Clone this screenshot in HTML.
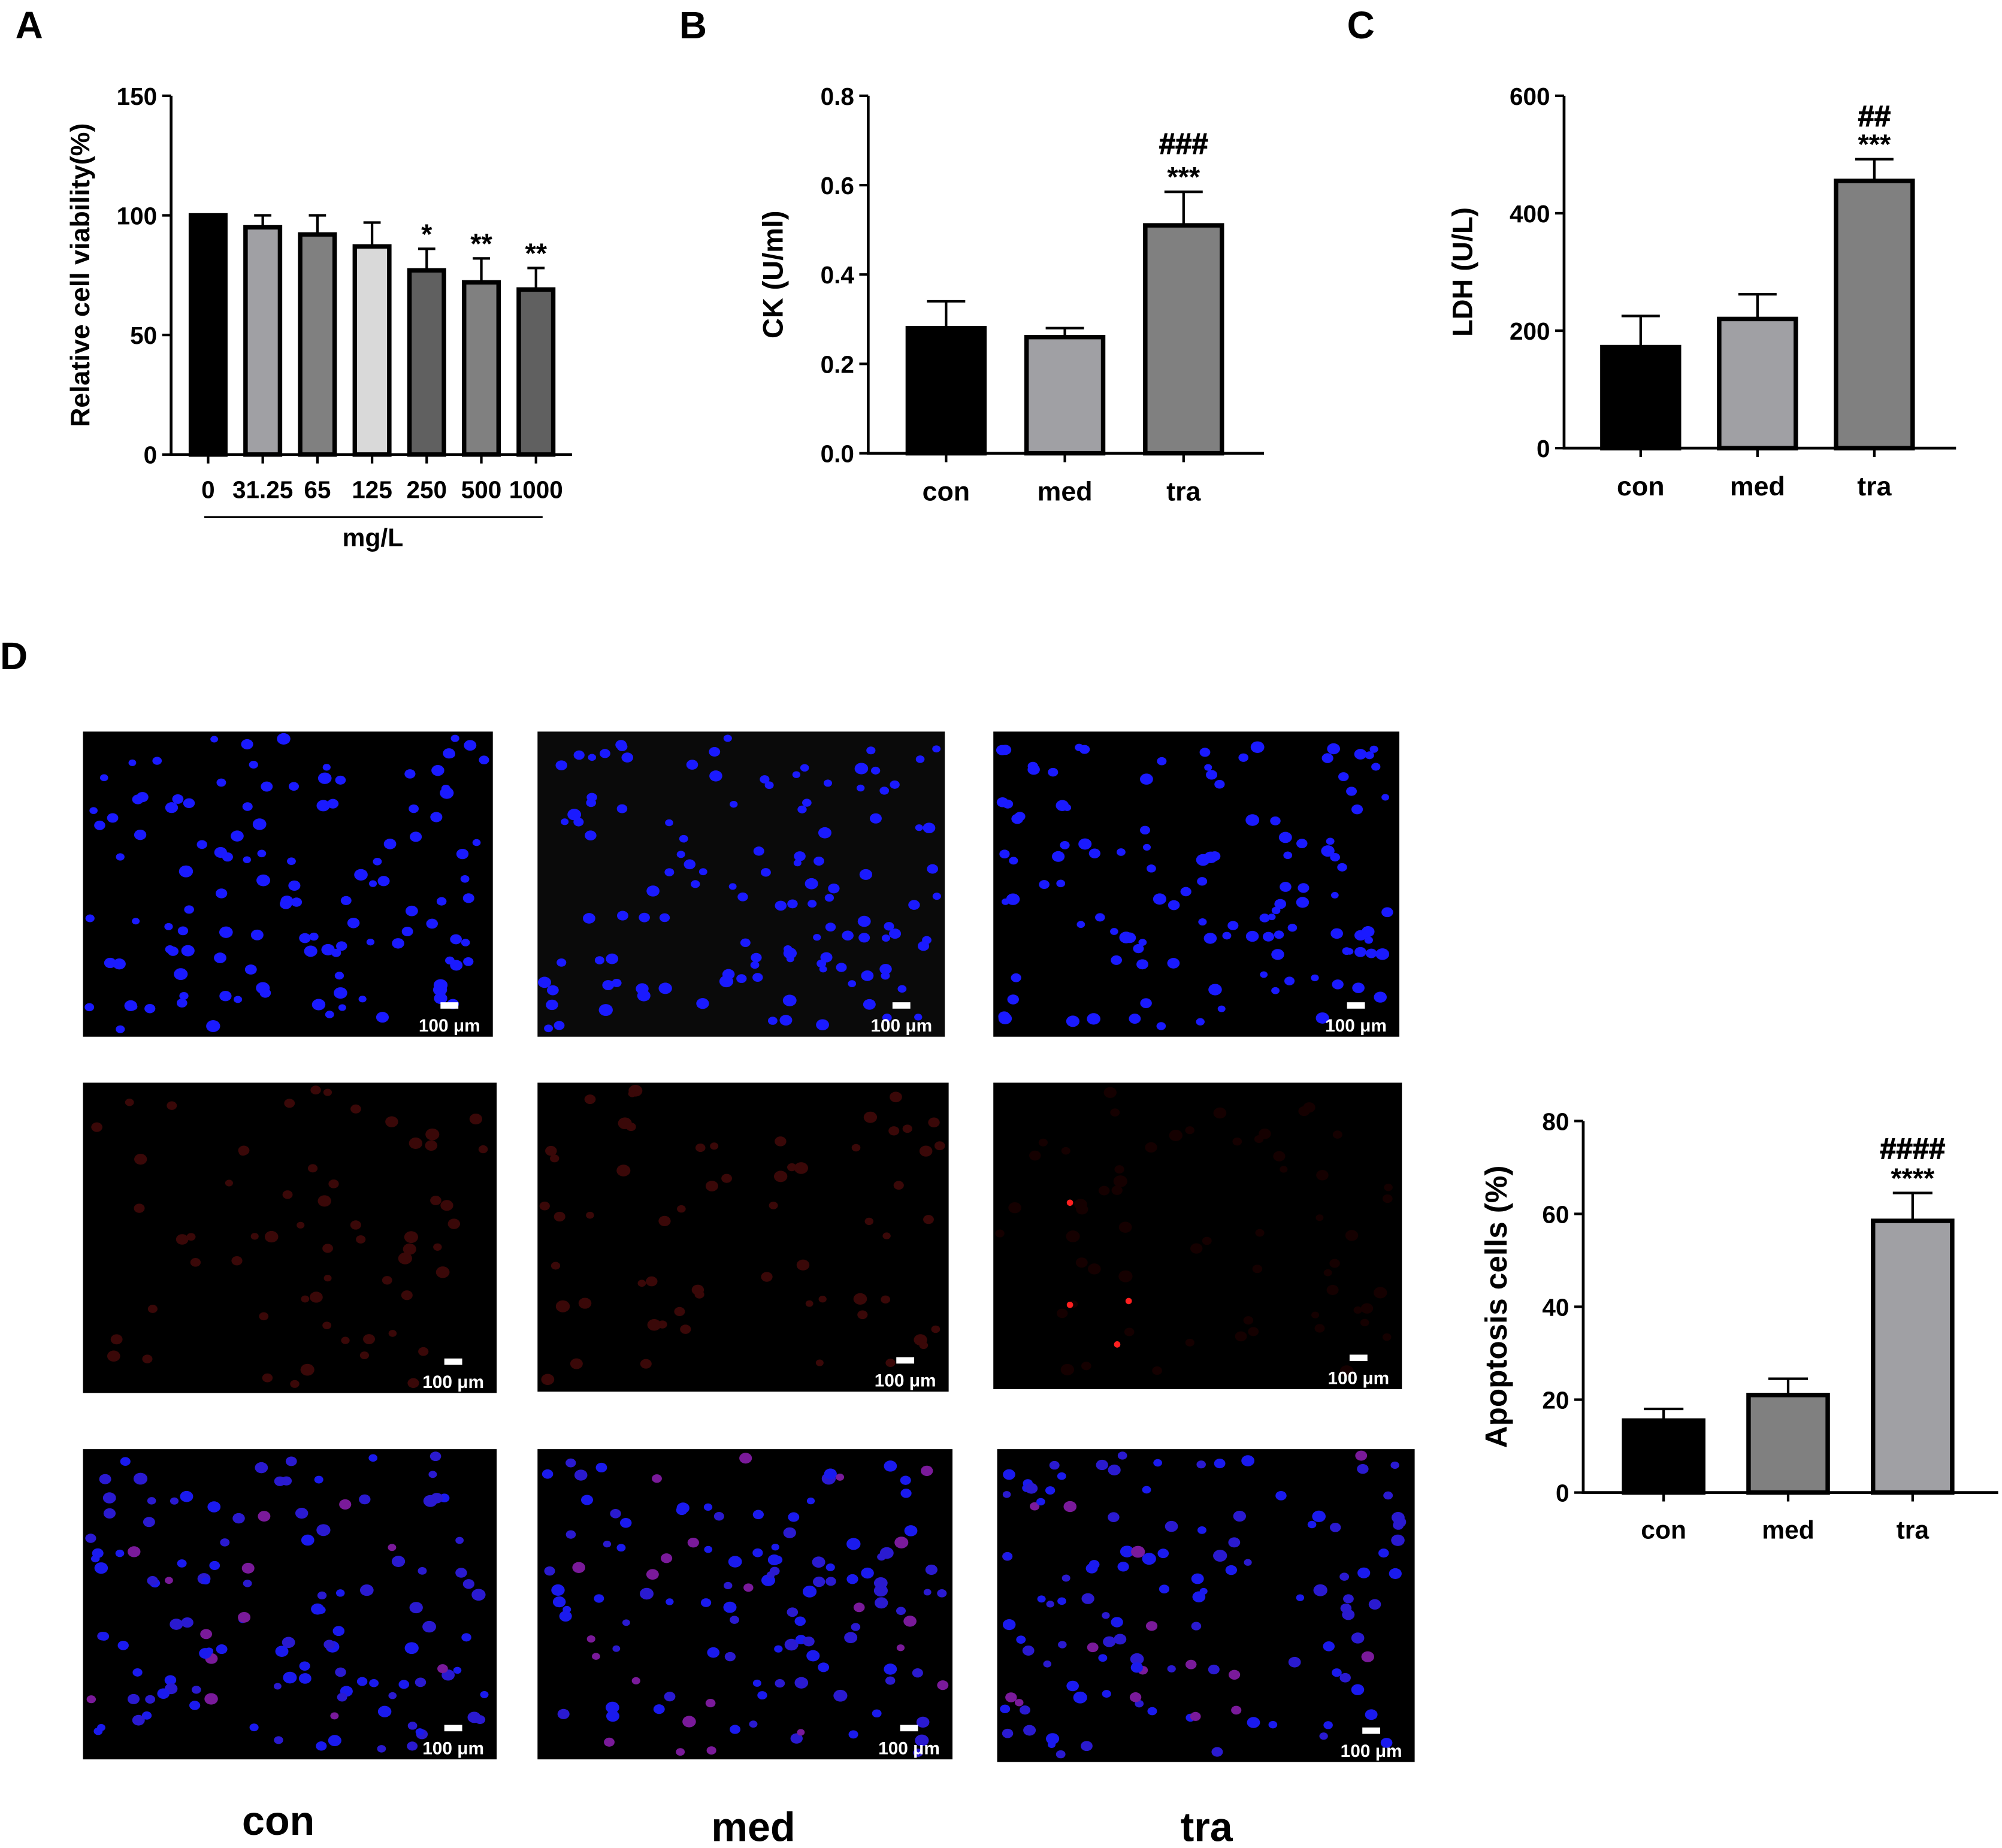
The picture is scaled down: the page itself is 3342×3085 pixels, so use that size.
<!DOCTYPE html>
<html><head><meta charset="utf-8"><style>
html,body{margin:0;padding:0;background:#fff}
svg{display:block}
text{font-family:"Liberation Sans",Arial,sans-serif;font-weight:bold;fill:#000}
</style></head><body>
<svg id="root" width="3342" height="3085" viewBox="0 0 1568 1447.4" xmlns="http://www.w3.org/2000/svg">
<g id="gA"></g>
<g id="gB"></g>
<g id="gC"></g>
<g id="gD"></g>
<g id="imgs"></g>
<text x="12" y="30" font-size="30">A</text>
<text x="532" y="30" font-size="30">B</text>
<text x="1055" y="30" font-size="30">C</text>
<text x="0" y="524" font-size="30">D</text>
<text x="218" y="1437" font-size="32" text-anchor="middle">con</text>
<text x="590" y="1442" font-size="32" text-anchor="middle">med</text>
<text x="945" y="1442" font-size="32" text-anchor="middle">tra</text>
</svg>
<script>
const NS="http://www.w3.org/2000/svg";
function mk(p,tag,attrs,txt){const e=document.createElementNS(NS,tag);for(const k in attrs)e.setAttribute(k,attrs[k]);if(txt!==undefined)e.textContent=txt;p.appendChild(e);return e;}

// Panel A data
const catsA=["0","31.25","65","125","250","500","1000"];
const valsA=[100,95,92,87,77,72,69];
const errA=[0,5,8,10,9,10,9];
const starsA=["","","","","*","**","**"];
const ticksA=[0,50,100,150];
// Panel B data
const catsB=["con","med","tra"];
const valsB=[0.28,0.26,0.51];
const errB=[0.06,0.02,0.075];
const ticksB=[0,0.2,0.4,0.6,0.8];
// Panel C data
const catsC=["con","med","tra"];
const valsC=[172,220,455];
const errC=[53,42,37];
const ticksC=[0,200,400,600];
// Panel D data
const catsD=["con","med","tra"];
const valsD=[15.5,21,58.5];
const errD=[2.5,3.5,6];
const ticksD=[0,20,40,60,80];

function chart(g,o){
  const y=v=>o.y0-(v-o.min)/(o.max-o.min)*(o.y0-o.y1);
  const ax=mk(g,'path',{d:`M${o.ax} ${o.y1}V${o.y0}H${o.xe}`,stroke:'#000','stroke-width':2.2,fill:'none'});
  
  
  o.ticks.forEach(t=>{
    const l=mk(g,'line',{x1:o.ax-7,x2:o.ax,y1:y(t),y2:y(t),stroke:'#000','stroke-width':2});
    
    
    const tx=mk(g,'text',{x:o.ax-11,y:y(t)+7,'font-size':o.fs,'text-anchor':'end'},o.fmt(t));
    
    
  });
  o.cats.forEach((c,i)=>{
    const cx=o.cx0+i*o.step, v=o.vals[i], e=o.err[i];
    if(e>0){
      const cw=o.bw*0.25;
      const eb=mk(g,'path',{d:`M${cx} ${y(v)}V${y(v+e)}M${cx-cw} ${y(v+e)}H${cx+cw}`,stroke:'#000','stroke-width':2,fill:'none'});
      
      
    }
    const r=mk(g,'rect',{x:cx-o.bw/2,y:y(v),width:o.bw,height:o.y0-y(v),fill:o.colors[i],stroke:'#000','stroke-width':3.5});
    
    
    const t=mk(g,'line',{x1:cx,x2:cx,y1:o.y0,y2:o.y0+7,stroke:'#000','stroke-width':2});
    
    
    const lb=mk(g,'text',{x:cx,y:o.y0+o.ly,'font-size':o.xfs,'text-anchor':'middle'},c);
    
    
    if(o.stars&&o.stars[i]){
      const s=mk(g,'text',{x:cx,y:y(v+e)-4,'font-size':22,'text-anchor':'middle'},o.stars[i]);
      
      
    }
  });
  const tt=mk(g,'text',{transform:`translate(${o.tx},${(o.y0+o.y1)/2}) rotate(-90)`,'font-size':o.tfs,'text-anchor':'middle'},o.title);
  
  
  return y;
}

chart(document.getElementById('gA'),{ax:134,xe:448,y0:356,y1:75,min:0,max:150,ticks:ticksA,fmt:t=>t,fs:19,cats:catsA,vals:valsA,err:errA,stars:starsA,cx0:163,step:42.8,bw:27,colors:['#000','#a0a0a4','#808080','#d9d9d9','#606060','#808080','#606060'],ly:34,xfs:19,title:'Relative cell viability(%)',tx:70,tfs:21});
const gA=document.getElementById('gA');
const ul=mk(gA,'line',{x1:160,x2:425,y1:405,y2:405,stroke:'#000','stroke-width':1.5});


const ut=mk(gA,'text',{x:292,y:428,'font-size':20,'text-anchor':'middle'},'mg/L');



const yB=chart(document.getElementById('gB'),{ax:680,xe:990,y0:355,y1:75,min:0,max:0.8,ticks:ticksB,fmt:t=>t.toFixed(1),fs:19,cats:catsB,vals:valsB,err:errB,stars:['','','***'],cx0:741,step:93,bw:60,colors:['#000','#a0a0a4','#808080'],ly:37,xfs:21,title:'CK (U/ml)',tx:613,tfs:22});
const hB=mk(document.getElementById('gB'),'text',{x:927,y:yB(valsB[2]+errB[2])-30,'font-size':23,'font-weight':'normal','text-anchor':'middle',stroke:'#000','stroke-width':0.6},'###');



const yC=chart(document.getElementById('gC'),{ax:1225,xe:1532,y0:351,y1:75,min:0,max:600,ticks:ticksC,fmt:t=>t,fs:19,cats:catsC,vals:valsC,err:errC,stars:['','','***'],cx0:1285,step:91.5,bw:60,colors:['#000','#a0a0a4','#808080'],ly:37,xfs:21,title:'LDH (U/L)',tx:1153,tfs:22});
const hC=mk(document.getElementById('gC'),'text',{x:1468,y:yC(valsC[2]+errC[2])-26,'font-size':23,'font-weight':'normal','text-anchor':'middle',stroke:'#000','stroke-width':0.6},'##');



const yD=chart(document.getElementById('gD'),{ax:1240,xe:1565,y0:1169,y1:878,min:0,max:80,ticks:ticksD,fmt:t=>t,fs:19,cats:catsD,vals:valsD,err:errD,stars:['','','****'],cx0:1303,step:97.5,bw:62,colors:['#000','#808080','#a0a0a4'],ly:36,xfs:20,title:'Apoptosis cells (%)',tx:1180,tfs:24});
const hD=mk(document.getElementById('gD'),'text',{x:1498,y:yD(valsD[2]+errD[2])-27,'font-size':23,'font-weight':'normal','text-anchor':'middle',stroke:'#000','stroke-width':0.6},'####');



// micrographs (decorative)
const panels=[
 [65,573,321,239,'blue'],[421,573,319,239,'blue'],[778,573,318,239,'blue'],
 [65,848,324,243,'red'],[421,848,322,242,'red'],[778,848,320,240,'red'],
 [65,1135,324,243,'merge'],[421,1135,325,243,'merge'],[781,1135,327,245,'merge']];
let seed=7;function rnd(){seed=(seed*16807)%2147483647;return seed/2147483647;}
const gi=document.getElementById('imgs');
panels.forEach((p,k)=>{
  const [x,y,w,h,type]=p;
  const g=mk(gi,'g',{});
  
  
  mk(g,'rect',{x,y,width:w,height:h,fill:type=='blue'&&k==1?'#0a0a0a':'#000'});
  const n=type=='red'?60:120;
  for(let i=0;i<n;i++){
    const cx=x+5+rnd()*(w-10), cy=y+5+rnd()*(h-10), r=3+rnd()*2.5;
    let col='#1a1aff';
    if(type=='red') col=k==5?'#150000':'#3a0808';
    if(type=='merge') col=rnd()<0.12?'#7a1a9a':(rnd()<0.5?'#2a1ad0':'#1a1aee');
    mk(g,'ellipse',{cx,cy,rx:r,ry:r*0.85,fill:col});
  }
  if(k==5){[[838,942],[838,1022],[884,1019],[875,1053]].forEach(d=>mk(g,'circle',{cx:d[0],cy:d[1],r:2.5,fill:'#ff2020'}));}
  mk(g,'rect',{x:x+w-41,y:y+h-27,width:14,height:5,fill:'#fff'});
  const t=mk(g,'text',{x:x+w-34,y:y+h-4,'font-size':14,'text-anchor':'middle',style:'fill:#fff'},'100 μm');
  
  
});
</script>
</body></html>
